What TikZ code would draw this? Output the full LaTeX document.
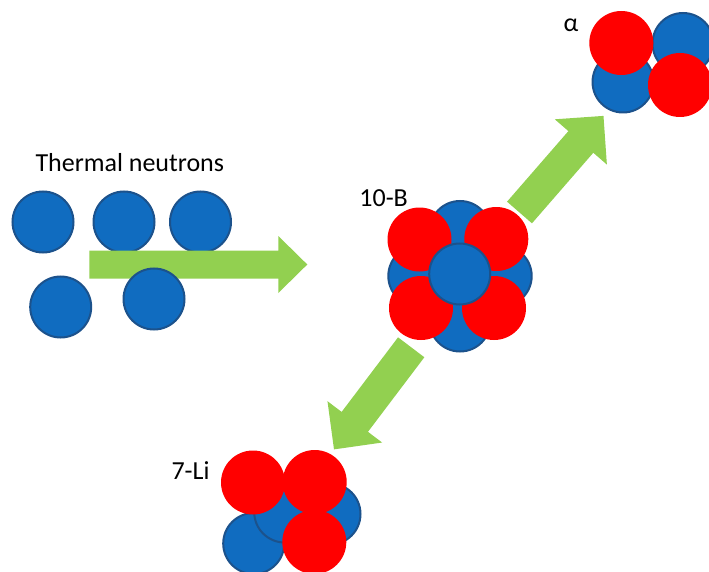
\documentclass[tikz,border=0pt]{standalone}
\usepackage{fontspec}
\setmainfont{Carlito}
\definecolor{nucblue}{RGB}{16,108,192}
\definecolor{nucrim}{RGB}{28,82,140}
\definecolor{nucred}{RGB}{255,0,0}
\definecolor{arrowgreen}{RGB}{146,208,80}
\tikzset{
  blueball/.style={circle, inner sep=0pt, minimum size=61pt, fill=nucblue, draw=nucrim, line width=2pt},
  redball/.style={circle, inner sep=0pt, minimum size=64pt, fill=nucred},
  caption/.style={inner sep=0pt, anchor=base west, font=\fontsize{26}{31}\selectfont},
  % block arrow: length, shaft width, head width, head length (tail at origin, pointing along +x)
  pics/blockarrow/.style n args={4}{code={
    \fill[arrowgreen] (0,-#2/2) -- (#1-#4,-#2/2) -- (#1-#4,-#3/2) -- (#1,0)
      -- (#1-#4,#3/2) -- (#1-#4,#2/2) -- (0,#2/2) -- cycle;
  }}
}
\begin{document}
\begin{tikzpicture}[x=1pt, y=-1pt]
\useasboundingbox (0,0) rectangle (709,572);

% thermal neutrons
\node[caption] (tn) at (35.3,171.7) {Thermal neutrons};
\node[blueball] (n1) at (43,222) {};
\node[blueball] (n2) at (124,222) {};
\node[blueball] (n3) at (200.5,222) {};
\coordinate (inTail) at (89.3,264.5);
\pic at (inTail) {blockarrow={218}{28}{57}{29}};
\node[blueball] (n4) at (60.7,307) {};
\node[blueball] (n5) at (154,299) {};

% emission arrows
\coordinate (alphaTail) at (519.5,212.5);
\coordinate (liTail) at (411.2,347.3);
\pic[rotate=49] at (alphaTail) {blockarrow={128}{33}{69}{34.5}};
\pic[rotate=232.9] at (liTail) {blockarrow={128}{33}{68.5}{34.5}};

% 10-B nucleus
\node[caption] (bl) at (359.2,206.7) {10-B};
\node[blueball] (bTop) at (460,231.5) {};
\node[blueball] (bBot) at (460,321) {};
\node[blueball] (bLeft) at (418.8,276) {};
\node[blueball] (bRight) at (501.2,276) {};
\node[redball] (bRTL) at (419.5,239.5) {};
\node[redball] (bRTR) at (496.3,239) {};
\node[redball] (bRBL) at (421,308) {};
\node[redball] (bRBR) at (494,308) {};
\node[blueball] (bCore) at (459.7,274) {};

% alpha particle
\node[caption] (al) at (563.5,31.7) {α};
\node[blueball] (aB1) at (683,43.5) {};
\node[blueball] (aB2) at (623,82) {};
\node[redball] (aR1) at (621.3,43) {};
\node[redball] (aR2) at (680,85) {};

% 7-Li nucleus
\node[caption] (ll) at (171.3,479.3) {7-Li};
\node[blueball] (lB1) at (330,514) {};
\node[blueball] (lB2) at (253.7,543.5) {};
\node[blueball] (lB3) at (284.7,512) {};
\node[redball] (lR1) at (253,482.5) {};
\node[redball] (lR2) at (314.7,482) {};
\node[redball] (lR3) at (314.3,542) {};
\end{tikzpicture}
\end{document}
